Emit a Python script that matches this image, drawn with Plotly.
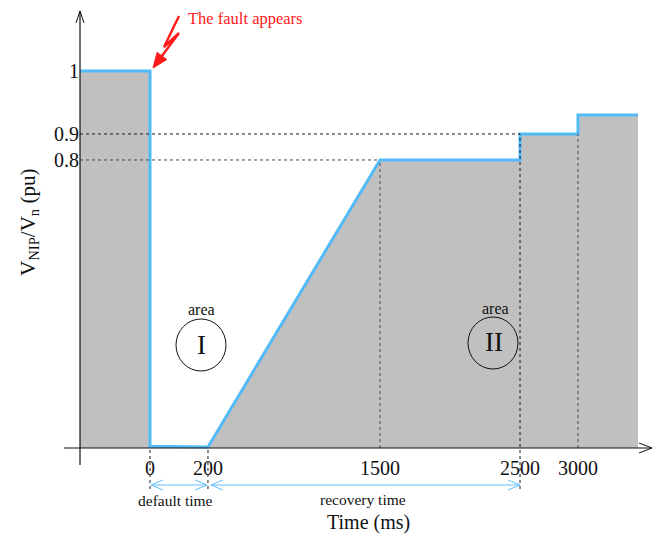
import numpy as np
import plotly.graph_objects as go

# Voltage at the connection point: pre-fault, fault, ramp and staged recovery
time_ms = [-500, 0, 0, 200, 1500, 2500, 2500, 3000, 3000, 3500]
voltage_pu = [1.0, 1.0, 0.005, 0.003, 0.8, 0.8, 0.9, 0.9, 0.93, 0.93]

x_tick_ms = [0, 200, 1500, 2500, 3000]
x_tick_labels = ["0", "200", "1500", "2500", "3000"]
y_tick_pu = [0.8, 0.9, 1.0]
y_tick_labels = ["0.8", "0.9", "1"]

# Time spans marked under the axis
default_span_ms = [0, 200]
recovery_span_ms = [200, 2500]

# The diagram is not drawn to scale: both axes are piecewise linear
X_KNOTS_MS = [-500, 0, 200, 1500, 2500, 3000, 3500]
X_KNOTS_AX = [-500, 0, 414, 1643, 2643, 3057, 3486]
Y_KNOTS_PU = [0.0, 0.8, 0.9, 1.0]
Y_KNOTS_AX = [0.0, 0.764, 0.833, 1.0]

W, H = 659, 536
X0_PX, X_SCALE = 150.0, 0.14     # pixel of axis value 0, pixels per axis unit
Y0_PX, Y_SCALE = 448.0, 377.0

FONT = "Liberation Serif"
BLUE = "#52baf7"
DIM_BLUE = "#62c0fb"
RED = "#ff1a1a"


def sx(t):
    return np.interp(t, X_KNOTS_MS, X_KNOTS_AX)


def sy(v):
    return np.interp(v, Y_KNOTS_PU, Y_KNOTS_AX)


def px(x, y):
    """figure pixel -> paper coordinates"""
    return x / W, 1 - y / H


def ax_to_px_x(a):
    return X0_PX + X_SCALE * a


def ax_to_px_y(a):
    return Y0_PX - Y_SCALE * a


x_range = [-X0_PX / X_SCALE, (W - X0_PX) / X_SCALE]
y_range = [(Y0_PX - H) / Y_SCALE, Y0_PX / Y_SCALE]

xs = sx(time_ms)
ys = sy(voltage_pu)

fig = go.Figure()
fig.add_trace(go.Scatter(x=xs, y=ys, mode="lines", fill="tozeroy",
                         fillcolor="#c0c0c0", line=dict(width=0),
                         hoverinfo="skip", showlegend=False))
fig.add_trace(go.Scatter(x=xs, y=ys, mode="lines",
                         line=dict(color=BLUE, width=3),
                         showlegend=False))

shapes = []
DASH = "3px,3px"


def vline(t, v_top, y_bottom_ax, color):
    shapes.append(dict(type="line", xref="x", yref="y", layer="above",
                       x0=sx(t), x1=sx(t), y0=y_bottom_ax, y1=sy(v_top),
                       line=dict(color=color, width=1, dash=DASH)))


def hline(v, t_end, color):
    shapes.append(dict(type="line", xref="x", yref="y", layer="above",
                       x0=sx(-500), x1=sx(t_end), y0=sy(v), y1=sy(v),
                       line=dict(color=color, width=1, dash=DASH)))


DIM_Y_PX = 485
below_ax = (Y0_PX - (DIM_Y_PX + 4)) / Y_SCALE

hline(0.9, 2500, "#1a1a1a")
hline(0.8, 1500, "#4a4a4a")
vline(1500, 0.8, 0, "#4a4a4a")
vline(3000, 0.9, 0, "#4a4a4a")
vline(2500, 0.9, below_ax, "#1a1a1a")
vline(0, 0, below_ax, "#1a1a1a")
vline(200, 0, below_ax, "#1a1a1a")


def paper_path(points, close=False):
    pts = [px(x, y) for x, y in points]
    p = "M " + " L ".join(f"{a:.5f},{b:.5f}" for a, b in pts)
    return p + (" Z" if close else "")


def pline(points, color, width):
    shapes.append(dict(type="path", xref="paper", yref="paper", layer="above",
                       path=paper_path(points),
                       line=dict(color=color, width=width)))


# axes with open arrow heads
pline([(80, 465), (80, 11)], "#111111", 1.2)
pline([(76, 23), (80, 11), (84, 23)], "#111111", 1)
pline([(64, 448), (651, 448)], "#111111", 1.2)
pline([(639, 443), (652, 448), (639, 453)], "#111111", 1)


# double-headed span arrows under the axis
def span_arrow(t0, t1, gap0=0, gap1=0):
    x0 = ax_to_px_x(sx(t0)) + gap0
    x1 = ax_to_px_x(sx(t1)) - gap1
    y = DIM_Y_PX
    pline([(x0, y), (x1, y)], DIM_BLUE, 1)
    pline([(x0 + 12, y - 5), (x0, y), (x0 + 12, y + 5)], DIM_BLUE, 1)
    pline([(x1 - 12, y - 5), (x1, y), (x1 - 12, y + 5)], DIM_BLUE, 1)


span_arrow(*default_span_ms, gap0=1, gap1=1)
span_arrow(*recovery_span_ms, gap0=3, gap1=0)

# lightning bolt ending in a filled head at the fault instant (t=0, V=1)
tip_x = ax_to_px_x(sx(0)) + 3
tip_y = ax_to_px_y(sy(1.0)) - 3
tail = (179, 33)
d = np.array([tip_x - tail[0], tip_y - tail[1]], dtype=float)
d /= np.hypot(*d)
perp = np.array([-d[1], d[0]])
head_len, head_half = 15, 6
base = np.array([tip_x, tip_y]) - head_len * d
pline([(179, 16), (164, 47), tail, tuple(base + 2 * d)], RED, 2.4)
shapes.append(dict(type="path", xref="paper", yref="paper", layer="above",
                   path=paper_path([(tip_x, tip_y),
                                    tuple(base + head_half * perp),
                                    tuple(base - head_half * perp)], close=True),
                   fillcolor=RED, line=dict(color=RED, width=1)))

# area markers
for cx, cy in [(201, 345), (493, 343)]:
    x0, y0 = px(cx - 25, cy + 26)
    x1, y1 = px(cx + 25, cy - 26)
    shapes.append(dict(type="circle", xref="paper", yref="paper",
                       x0=x0, x1=x1, y0=y0, y1=y1,
                       line=dict(color="#111111", width=1)))

annotations = []


def text(x, y, s, size, color="#111111", angle=0):
    a, b = px(x, y)
    annotations.append(dict(xref="paper", yref="paper", x=a, y=b, text=s,
                            showarrow=False, textangle=angle,
                            xanchor="center", yanchor="middle",
                            font=dict(family=FONT, size=size, color=color)))


text(246, 19, "The fault appears", 16.5, color=RED)
text(201, 309, "area", 16)
text(201, 345, "I", 27)
text(495, 308, "area", 16)
text(494, 342, "II", 27)
text(175, 500, "default time", 15.5)
text(363, 499, "recovery time", 15.5)
text(368, 522, "Time (ms)", 20)
text(29, 223, "V<sub>NIP</sub>/V<sub>n</sub> (pu)", 21, angle=-90)

fig.update_layout(
    width=W, height=H,
    margin=dict(l=0, r=0, t=0, b=0),
    paper_bgcolor="white", plot_bgcolor="white",
    shapes=shapes, annotations=annotations,
    xaxis=dict(range=x_range, tickvals=sx(x_tick_ms), ticktext=x_tick_labels,
               showgrid=False, zeroline=False, showline=False, ticks="",
               anchor="free", position=1 - Y0_PX / H,
               ticklabelstandoff=6,
               tickfont=dict(family=FONT, size=20, color="#111111")),
    yaxis=dict(range=y_range, tickvals=sy(y_tick_pu), ticktext=y_tick_labels,
               showgrid=False, zeroline=False, showline=False, ticks="",
               anchor="free", position=80 / W,
               ticklabelstandoff=1,
               tickfont=dict(family=FONT, size=20, color="#111111")),
    hovermode=False,
)

fig.write_html("out.html")
